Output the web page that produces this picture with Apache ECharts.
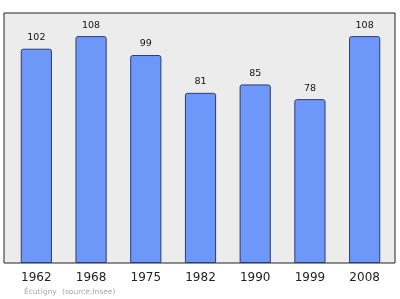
<!DOCTYPE html>
<html><head><meta charset="utf-8">
<script src="https://cdn.jsdelivr.net/npm/echarts@6/dist/echarts.min.js"></script>
<style>html,body{margin:0;padding:0;background:#fff}#c{width:400px;height:299px}</style>
</head><body><div id="c"></div>
<script>
const years = ['1962','1968','1975','1982','1990','1999','2008'];
const population = [102,108,99,81,85,78,108];
const placeText = 'Écutigny';
const sourceText = '(source:Insee)';

const chart = echarts.init(document.getElementById('c'), null, {renderer:'canvas'});
chart.setOption({
  animation:false,
  backgroundColor:'#ffffff',
  grid:[
    {left:4, right:5, top:13, bottom:36, show:true, backgroundColor:'#ececec', borderColor:'#222', borderWidth:1, z:0},
    {left:9, width:383, top:13, bottom:36}
  ],
  xAxis:[
    {gridIndex:0, type:'value', show:false, min:0, max:1},
    {gridIndex:1, type:'category', data:years, axisLine:{show:false}, axisTick:{show:false},
     axisLabel:{color:'#222', fontSize:12, fontFamily:'DejaVu Sans', margin:9}}
  ],
  yAxis:[
    {gridIndex:0, type:'value', show:false, min:0, max:1},
    {gridIndex:1, type:'value', min:0, max:119, show:false}
  ],
  series:[{
    type:'bar', xAxisIndex:1, yAxisIndex:1, data:population, barWidth:'57%',
    itemStyle:{color:'#6e97fa', borderColor:'#2a3e6e', borderWidth:1, borderRadius:[2,2,0,0]},
    label:{show:true, position:'top', color:'#111', fontSize:9.5, fontFamily:'DejaVu Sans', distance:6}
  }],
  graphic:[
    {type:'text', left:24, top:288, style:{text:placeText, fill:'#aaaaaa', fontSize:7.5, fontFamily:'DejaVu Sans'}},
    {type:'text', left:62, top:288, style:{text:sourceText, fill:'#aaaaaa', fontSize:7.5, fontFamily:'DejaVu Sans'}}
  ]
});
</script></body></html>
